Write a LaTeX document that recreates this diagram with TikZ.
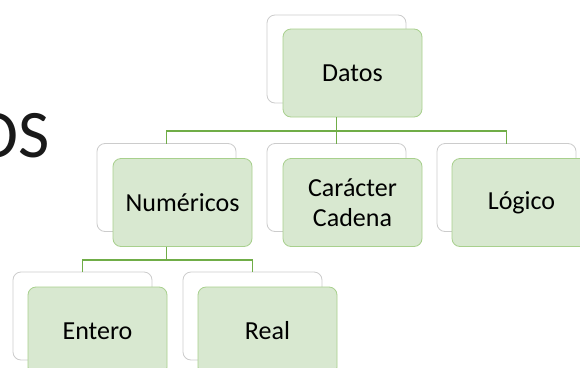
\documentclass[tikz,border=0pt]{standalone}
\usepackage{fontspec}
\setmainfont{Carlito}
\usepackage{tikz}
\usetikzlibrary{calc,positioning}
\usepackage{xcolor}
\definecolor{Hoja}{RGB}{216,232,208}
\definecolor{HojaBorde}{RGB}{168,208,141}
\definecolor{Rama}{RGB}{112,173,71}

\tikzset{
  backbox/.style={draw=gray!40, fill=white, rounded corners=8pt, minimum width=139pt, minimum height=88pt, line width=0.8pt, outer sep=0pt},
  databox/.style={draw=HojaBorde, fill=Hoja, rounded corners=8pt, minimum width=139pt, minimum height=88pt, line width=0.8pt, outer sep=0pt, align=center, font=\fontsize{26}{30}\selectfont},
  rama/.style={draw=Rama, line width=1.6pt}
}

\begin{document}
\begin{tikzpicture}[x=1pt,y=-1pt]
\useasboundingbox (0,0) rectangle (580,367);
\clip (0,0) rectangle (580,367);
\fill[white] (0,0) rectangle (580,367);
%
\node[anchor=base east, font=\fontsize{68}{80}\selectfont, text=black!90] (titulo) at (53,157) {OS};
%
% nivel 1
\node[backbox] (datosb) at (336.5,59) {};
\node[databox] (datos) at ([shift={(16,14)}]datosb) {Datos};
%
% nivel 2
\node[backbox] (numb) at (166.5,187.5) {};
\node[databox] (num) at ([shift={(16,15)}]numb) {Numéricos};
\node[backbox] (carb) at (336.5,187.5) {};
\node[databox] (car) at ([shift={(16,15)}]carb) {Carácter\\Cadena};
\node[backbox] (logb) at (506.5,187.5) {};
\node[databox] (log) at ([shift={(15,15)}]logb) {Lógico};
%
% nivel 3
\node[backbox] (entb) at (82.5,316) {};
\node[databox] (ent) at ([shift={(15,15)}]entb) {Entero};
\node[backbox] (realb) at (252.5,316) {};
\node[databox] (real) at ([shift={(15,15)}]realb) {Real};
%
% ramas
\coordinate (barraA) at (0,131);
\coordinate (barraB) at (0,260);
\draw[rama] (datosb.south |- datos.south) -- (datosb.south |- barraA);
\draw[rama] (numb.north) -- (numb.north |- barraA) -| (logb.north);
\draw[rama] (carb.north) -- (carb.north |- barraA);
\draw[rama] (numb.south |- num.south) -- (numb.south |- barraB);
\draw[rama] (entb.north) -- (entb.north |- barraB) -| (realb.north);
\end{tikzpicture}
\end{document}
